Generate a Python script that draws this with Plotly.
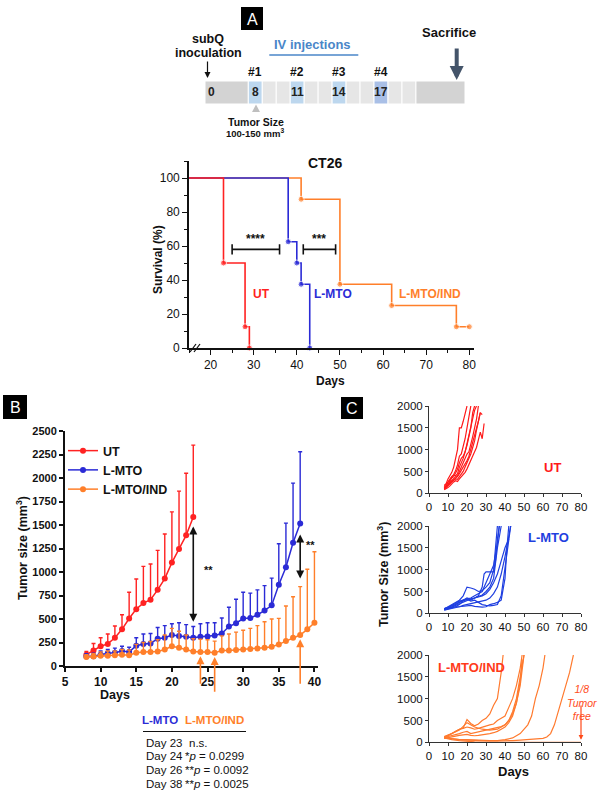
import plotly.graph_objects as go

W, H = 600, 792
FONT = "Liberation Sans, Arial, Helvetica, sans-serif"

# ---------------- DATA ----------------
# Panel A: treatment schedule
inoculation_day = 0
injection_days = [8, 11, 14, 17]
injection_names = ["#1", "#2", "#3", "#4"]

# Panel A: Kaplan-Meier survival (CT26)
surv_ut_days = [15, 23, 28, 29]
surv_ut_pct = [100, 50, 12.5, 0]
surv_mto_days = [15, 38, 40, 41, 43]
surv_mto_pct = [100, 62.5, 50, 37.5, 0]
surv_ind_days = [15, 41, 50, 62, 77, 80]
surv_ind_pct = [100, 87.5, 37.5, 25, 12.5, 12.5]

# Panel B: mean tumour size (+ upper error)
b_days_ut = list(range(8, 24))
b_mean_ut = [120, 165, 210, 235, 300, 390, 505, 605, 670, 705, 810, 930, 1100, 1245, 1390, 1585]
b_err_ut = [35, 75, 90, 105, 125, 155, 280, 320, 390, 380, 420, 475, 540, 615, 660, 765]

b_days_mto = list(range(8, 39))
b_mean_mto = [100, 105, 120, 135, 140, 160, 150, 215, 235, 240, 290, 300, 330, 320, 310,
              300, 310, 315, 325, 345, 420, 455, 505, 510, 545, 590, 645, 865, 1050, 1310, 1515]
b_err_mto = [30, 30, 40, 40, 50, 50, 50, 85, 105, 105, 120, 130, 120, 140, 130,
             120, 140, 145, 135, 165, 205, 255, 280, 265, 265, 265, 290, 435, 470, 635, 765]

b_days_ind = list(range(8, 41))
b_mean_ind = [95, 100, 110, 110, 115, 120, 115, 140, 150, 150, 155, 175, 210, 195, 175, 155,
              150, 150, 140, 165, 165, 170, 175, 180, 185, 195, 205, 230, 265, 300, 330, 390, 460]
b_err_ind = [25, 30, 40, 50, 45, 55, 55, 90, 100, 110, 125, 155, 190, 175, 155, 135,
             135, 130, 125, 155, 175, 190, 205, 220, 245, 275, 295, 277, 373, 437, 514, 639, 756]

table_days = ["Day 23", "Day 24", "Day 26", "Day 38"]
table_p = ["n.s.", "*<i>p</i> = 0.0299", "**<i>p</i> = 0.0092", "**<i>p</i> = 0.0025"]

# Panel C: individual tumour growth curves (8 mice / group)
c_ut_days = [list(range(8, 21)), list(range(8, 23)), list(range(8, 25)), list(range(8, 27)),
             list(range(8, 28)), list(range(8, 30)), list(range(8, 26)), list(range(8, 29))]
c_ut_vals = [
    [180, 220, 330, 400, 480, 600, 800, 1000, 1500, 1500, 1650, 1850, 2000],
    [130, 170, 250, 330, 380, 430, 520, 650, 850, 900, 1050, 1250, 1500, 1800, 2000],
    [100, 150, 200, 280, 350, 380, 450, 550, 700, 800, 850, 950, 1100, 1300, 1500, 1850, 2000],
    [90, 130, 180, 250, 300, 330, 380, 400, 500, 600, 700, 800, 900, 950, 1100, 1300, 1500, 1700, 2000],
    [110, 140, 170, 210, 260, 300, 330, 320, 380, 450, 500, 600, 700, 800, 900, 1050, 1200, 1450, 1650, 1850],
    [80, 100, 130, 170, 220, 260, 290, 270, 330, 380, 430, 480, 560, 650, 750, 850, 950, 1050, 1200, 1400, 1250, 1600],
    [150, 200, 260, 320, 380, 420, 400, 450, 600, 700, 800, 950, 1150, 1350, 1550, 1700, 1900, 2000],
    [120, 160, 200, 230, 280, 300, 350, 380, 450, 520, 580, 650, 750, 850, 1000, 1150, 1300, 1500, 1650, 1850, 1800],
]
c_mto_days = [
    [8, 10, 12, 14, 16, 18, 20, 22, 24, 26, 28, 30, 32, 34, 36],
    [8, 10, 12, 14, 16, 18, 20, 22, 24, 26, 28, 29, 30, 32, 34, 35, 36, 37],
    [8, 10, 12, 14, 16, 18, 20, 22, 24, 26, 28, 30, 32, 34, 36, 38],
    [8, 10, 12, 14, 16, 18, 20, 22, 24, 26, 28, 30, 32, 34, 36, 38, 40, 42],
    [8, 10, 12, 14, 16, 18, 20, 22, 24, 26, 28, 30, 32, 34, 36, 38, 40, 42, 43],
    [8, 10, 12, 14, 16, 18, 20, 22, 24, 26, 28, 30, 32, 34, 36, 38, 40, 41, 42],
    [8, 10, 12, 14, 16, 18, 20, 22, 24, 26, 28, 30, 32, 34, 36, 38, 40, 42, 43],
    [8, 10, 12, 14, 16, 18, 20, 22, 24, 26, 28, 30, 32, 34, 36, 37],
]
c_mto_vals = [
    [100, 150, 200, 250, 300, 400, 600, 580, 550, 500, 520, 600, 700, 1000, 2000],
    [90, 120, 150, 200, 250, 300, 350, 320, 350, 400, 600, 900, 950, 950, 950, 1200, 1700, 2000],
    [80, 100, 130, 150, 200, 280, 320, 300, 350, 380, 420, 500, 600, 800, 1500, 2000],
    [100, 120, 140, 180, 220, 250, 300, 330, 350, 380, 400, 450, 550, 700, 900, 1200, 1500, 1700],
    [70, 90, 100, 120, 150, 180, 200, 220, 250, 260, 280, 300, 350, 450, 600, 900, 1300, 1800, 2000],
    [90, 110, 130, 150, 150, 160, 170, 180, 160, 150, 140, 150, 200, 220, 250, 300, 800, 1500, 2000],
    [100, 130, 180, 240, 280, 300, 320, 280, 300, 250, 200, 180, 170, 180, 200, 400, 1000, 1600, 2000],
    [110, 140, 170, 200, 250, 300, 330, 350, 400, 450, 500, 700, 900, 1100, 1600, 2000],
]
c_ind_days = [
    [8, 10, 12, 14, 16, 18, 20, 22, 24, 26, 28, 30, 32, 34, 36, 38, 39],
    [8, 10, 12, 14, 16, 18, 20, 22, 24, 26, 28, 30, 32, 34, 36, 38, 40, 42, 44, 46, 48, 49],
    [8, 10, 12, 14, 16, 18, 20, 22, 24, 26, 28, 30, 32, 34, 36, 38, 40, 42, 44, 46, 48, 50],
    [8, 10, 12, 14, 16, 18, 20, 22, 24, 26, 28, 30, 32, 34, 36, 38, 40, 42, 44, 46, 48, 49],
    [8, 12, 16, 20, 24, 28, 32, 36, 40, 44, 48, 52, 54, 56, 58, 60, 61],
    [8, 12, 16, 20, 24, 28, 32, 36, 40, 44, 48, 52, 56, 60, 62, 64, 66, 68, 70, 72, 74, 76],
    [8, 12, 16, 20, 24, 28, 32, 36, 40, 50, 60, 70, 80],
    [8, 12, 16, 20, 24, 28, 32, 36, 40, 42, 44, 46, 48, 50],
]
c_ind_vals = [
    [130, 160, 200, 250, 300, 330, 520, 430, 380, 420, 500, 550, 650, 850, 1000, 1600, 2000],
    [100, 150, 200, 250, 300, 320, 350, 330, 300, 320, 350, 380, 400, 420, 500, 550, 600, 800, 1000, 1300, 1700, 2000],
    [110, 130, 150, 180, 200, 230, 250, 200, 220, 240, 260, 280, 300, 320, 340, 360, 400, 500, 700, 1000, 1500, 2000],
    [90, 110, 130, 150, 160, 170, 180, 160, 150, 160, 170, 180, 200, 220, 250, 300, 350, 450, 600, 900, 1400, 1900],
    [100, 80, 60, 60, 50, 40, 40, 40, 60, 100, 200, 400, 600, 1000, 1300, 1700, 2000],
    [110, 80, 60, 50, 40, 30, 30, 30, 30, 40, 50, 60, 70, 90, 120, 200, 400, 700, 1000, 1300, 1600, 2000],
    [100, 60, 40, 20, 10, 5, 0, 0, 0, 0, 0, 0, 0],
    [120, 200, 280, 450, 350, 300, 280, 300, 400, 500, 650, 900, 1300, 2000],
]

# ---------------- STYLE ----------------
RED = "#FF2222"
BLUE = "#2B2BD6"
ORANGE = "#FF7F2A"
C_RED = "#FF1A1A"
C_BLUE = "#1F3FE0"
C_ORANGE = "#FF7A2E"
INK = "#111111"


def PX(x):
    return x / W


def PY(y):
    return 1 - y / H


def T(text, x, y, size=12, color=INK, xanchor="center", angle=0):
    """Text annotation placed in page pixels."""
    return dict(text=text, x=PX(x), y=PY(y), xref="paper", yref="paper", showarrow=False,
                xanchor=xanchor, yanchor="middle", textangle=angle,
                font=dict(size=size, family=FONT, color=color))


def TD(text, x, y, ax, size=12, color=INK):
    """Text annotation in data coordinates of axis pair ax."""
    return dict(text=text, x=x, y=y, xref=f"x{ax}", yref=f"y{ax}", showarrow=False,
                xanchor="center", yanchor="middle", font=dict(size=size, family=FONT, color=color))


fig = go.Figure()

# ---- survival curves ----
for dx, py, col in [(surv_ind_days, surv_ind_pct, ORANGE),
                    (surv_mto_days, surv_mto_pct, BLUE),
                    (surv_ut_days, surv_ut_pct, RED)]:
    fig.add_trace(go.Scatter(
        x=dx, y=py, mode="lines+markers", line=dict(color=col, width=1.6, shape="hv"),
        marker=dict(size=[0] + [6] * (len(dx) - 1), color=col),
        showlegend=False, xaxis="x", yaxis="y", cliponaxis=False))

# ---- panel B ----
for name, dx, m, e, col in [("UT", b_days_ut, b_mean_ut, b_err_ut, RED),
                            ("L-MTO", b_days_mto, b_mean_mto, b_err_mto, BLUE),
                            ("L-MTO/IND", b_days_ind, b_mean_ind, b_err_ind, ORANGE)]:
    fig.add_trace(go.Scatter(
        x=dx, y=m, name=name, mode="lines+markers",
        line=dict(color=col, width=1.5), marker=dict(size=6, color=col),
        error_y=dict(type="data", array=e, arrayminus=[0] * len(e), symmetric=False,
                     color=col, thickness=1.4, width=2),
        xaxis="x2", yaxis="y2", showlegend=True, cliponaxis=False))

# ---- panel C ----
for (days, vals, col, ax) in [(c_ut_days, c_ut_vals, C_RED, 3),
                              (c_mto_days, c_mto_vals, C_BLUE, 4),
                              (c_ind_days, c_ind_vals, C_ORANGE, 5)]:
    for dx, v in zip(days, vals):
        fig.add_trace(go.Scatter(
            x=dx, y=v, mode="lines", line=dict(color=col, width=1.2),
            showlegend=False, xaxis=f"x{ax}", yaxis=f"y{ax}", hoverinfo="skip"))

shapes = []
ann = []

# ---- panel labels ----
for lab, (x0, y0, x1, y1) in [("A", (241, 7, 263, 30)), ("B", (3, 395, 27, 419)),
                              ("C", (341, 397, 363, 419))]:
    shapes.append(dict(type="rect", xref="paper", yref="paper", x0=PX(x0), x1=PX(x1),
                       y0=PY(y1), y1=PY(y0), fillcolor="black", line=dict(width=0)))
    ann.append(T(lab, (x0 + x1) / 2, (y0 + y1) / 2 + 0.5, size=16, color="white"))

# ---- timeline (panel A) ----
def tl(day):
    return 248.3 + (day - 8) * 13.97


BAR_T, BAR_B = 81, 104
shapes.append(dict(type="rect", xref="paper", yref="paper", x0=PX(205), x1=PX(tl(8)),
                   y0=PY(BAR_B), y1=PY(BAR_T), fillcolor="#D3D3D3", line=dict(width=1, color="white")))
for d in range(8, 20):
    if d in injection_days:
        fc = "#A9BFE6" if d == injection_days[-1] else "#BDD7EE"
    else:
        fc = "#E6E6E6"
    shapes.append(dict(type="rect", xref="paper", yref="paper", x0=PX(tl(d)), x1=PX(tl(d + 1)),
                       y0=PY(BAR_B), y1=PY(BAR_T), fillcolor=fc, line=dict(width=1, color="white")))
shapes.append(dict(type="rect", xref="paper", yref="paper", x0=PX(tl(20)), x1=PX(465),
                   y0=PY(BAR_B), y1=PY(BAR_T), fillcolor="#D3D3D3", line=dict(width=1, color="white")))

ann.append(T(f"<b>{inoculation_day}</b>", 211, 92.5, size=12, color="#222"))
for d, nm in zip(injection_days, injection_names):
    cx = (tl(d) + tl(d + 1)) / 2
    ann.append(T(f"<b>{d}</b>", cx, 92.5, size=12, color="#222"))
    ann.append(T(f"<b>{nm}</b>", cx, 72, size=12))

ann += [
    T("<b>subQ</b>", 208, 39, size=12.5),
    T("<b>inoculation</b>", 208, 53, size=12.5),
    dict(text="", x=PX(207.5), y=PY(78), ax=0, ay=-18, xref="paper", yref="paper", showarrow=True,
         arrowhead=2, arrowsize=1, arrowwidth=1.2, arrowcolor=INK),
    T("<b>IV injections</b>", 313, 44, size=13, color="#4A86C8"),
    T("<b>Sacrifice</b>", 449, 33, size=13),
    dict(text="", x=PX(456.7), y=PY(80), ax=0, ay=-33, xref="paper", yref="paper", showarrow=True,
         arrowhead=2, arrowsize=0.7, arrowwidth=4, arrowcolor="#44546A"),
    T("<b>Tumor Size</b>", 256, 121.5, size=10.5),
    T("<b>100-150 mm<sup>3</sup></b>", 255, 133, size=9.5),
]
shapes.append(dict(type="line", xref="paper", yref="paper", x0=PX(269.3), x1=PX(358.3),
                   y0=PY(55), y1=PY(55), line=dict(color="#4A86C8", width=1.3)))
shapes.append(dict(type="path", xref="paper", yref="paper",
                   path=f"M {PX(256)} {PY(104.5)} L {PX(252)} {PY(112)} L {PX(260)} {PY(112)} Z",
                   fillcolor="#BFBFBF", line=dict(width=0)))

# ---- survival annotations ----
ann += [
    T("<b>CT26</b>", 325, 163, size=14),
    T("<b>Survival (%)</b>", 158, 259, size=12, angle=-90),
    T("<b>Days</b>", 330, 381, size=12),
    TD("<b>UT</b>", 31.7, 31.8, "", color=RED),
    TD("<b>L-MTO</b>", 48.4, 31.8, "", color=BLUE),
    TD("<b>L-MTO/IND</b>", 71, 31.8, "", color=ORANGE),
    TD("<b>****</b>", 30.5, 64, ""),
    TD("<b>***</b>", 45.2, 64, ""),
]
for x0, x1 in [(25, 36), (41.5, 49)]:
    shapes.append(dict(type="line", xref="x", yref="y", x0=x0, x1=x1, y0=58, y1=58,
                       line=dict(color=INK, width=1.6)))
    for xx in (x0, x1):
        shapes.append(dict(type="line", xref="x", yref="y", x0=xx, x1=xx, y0=55, y1=61,
                           line=dict(color=INK, width=1.6)))
# axis break marks
for off in (0, 4):
    shapes.append(dict(type="line", xref="paper", yref="paper", x0=PX(190 + off), x1=PX(196 + off),
                       y0=PY(352), y1=PY(344), line=dict(color=INK, width=1.2)))

# ---- panel B annotations ----
ann += [
    T("<b>Tumor size (mm<sup>3</sup>)</b>", 22, 548, size=12.5, angle=-90),
    T("<b>Days</b>", 115, 695, size=12.5),
    dict(text="", x=23, y=470, ax=23, ay=1500, xref="x2", yref="y2", axref="x2", ayref="y2",
         showarrow=True, arrowhead=2, arrowside="end+start", arrowsize=1, arrowwidth=1.6, arrowcolor=INK),
    TD("<b>**</b>", 25.2, 1020, 2, size=11),
    dict(text="", x=38, y=930, ax=38, ay=1415, xref="x2", yref="y2", axref="x2", ayref="y2",
         showarrow=True, arrowhead=2, arrowside="end+start", arrowsize=1, arrowwidth=1.6, arrowcolor=INK),
    TD("<b>**</b>", 39.4, 1290, 2, size=11),
]
for d, tail, star, sy in [(24, -205, "*", -255), (26, -290, "**", -340), (38, -205, "**", -262)]:
    tip = b_mean_ind[b_days_ind.index(d)] - 45
    ann.append(dict(text="", x=d, y=tip, ax=d, ay=tail, xref="x2", yref="y2", axref="x2", ayref="y2",
                    showarrow=True, arrowhead=2, arrowsize=1, arrowwidth=1.6, arrowcolor=ORANGE))
    ann.append(TD(f"<b>{star}</b>", d, sy, 2, size=12, color=ORANGE))

# table under B
ann += [
    T("<b>L-MTO</b>", 160, 720, size=11.5, color=BLUE),
    T("<b>L-MTO/IND</b>", 183, 720, size=11.5, color=ORANGE, xanchor="left"),
]
shapes.append(dict(type="line", xref="paper", yref="paper", x0=PX(143), x1=PX(246),
                   y0=PY(731.5), y1=PY(731.5), line=dict(color=INK, width=1)))
for i, (dl, pv) in enumerate(zip(table_days, table_p)):
    yy = [742.7, 755.7, 769.5, 783.5][i]
    ann.append(T(dl, 144, yy, size=11.5, xanchor="left"))
    ann.append(T(pv, 187 if i == 0 else 183, yy, size=11.5, xanchor="left"))

# ---- panel C annotations ----
ann += [
    T("<b>UT</b>", 552, 467, size=13, color=C_RED),
    T("<b>L-MTO</b>", 548, 537, size=13, color=C_BLUE),
    T("<b>L-MTO/IND</b>", 471, 667, size=13, color="#FF3A1A"),
    T("<i>1/8<br>Tumor<br>free</i>", 582, 702.5, size=10.5, color="#FF4A1A"),
    dict(text="", x=80, y=60, ax=80, ay=880, xref="x5", yref="y5", axref="x5", ayref="y5",
         showarrow=True, arrowhead=2, arrowsize=0.8, arrowwidth=1.2, arrowcolor="#FF4A1A"),
    T("<b>Tumor Size (mm<sup>3</sup>)</b>", 383, 575, size=12.5, angle=-90),
    T("<b>Days</b>", 513, 771, size=13),
]

common = dict(showgrid=False, zeroline=False, showline=True, linecolor=INK, ticks="outside",
              tickcolor=INK, automargin=False, fixedrange=True)

layout = dict(
    width=W, height=H, margin=dict(l=0, r=0, t=0, b=0), autosize=False,
    paper_bgcolor="white", plot_bgcolor="white", template="none",
    font=dict(family=FONT, color=INK),
    showlegend=True,
    legend=dict(x=PX(63), y=PY(436), xanchor="left", yanchor="top", bgcolor="rgba(0,0,0,0)",
                font=dict(size=12.5, family=FONT, color=INK, weight="bold"),
                itemwidth=30, tracegroupgap=0),
    xaxis=dict(common, domain=[PX(189), PX(473.6)], range=[15, 81], anchor="y",
               tickvals=[20, 30, 40, 50, 60, 70, 80], ticklen=5, linewidth=1.6, tickwidth=1.4,
               minor=dict(dtick=5, tick0=0, ticklen=3, ticks="outside", tickcolor=INK),
               tickfont=dict(size=12, family=FONT, color=INK)),
    yaxis=dict(common, domain=[PY(348), PY(161)], range=[0, 110], anchor="x",
               tickvals=[0, 20, 40, 60, 80, 100], ticklen=5, linewidth=1.6, tickwidth=1.4,
               minor=dict(dtick=10, tick0=0, ticklen=3, ticks="outside", tickcolor=INK),
               tickfont=dict(size=12, family=FONT, color=INK)),
    xaxis2=dict(common, domain=[PX(65), PX(318)], range=[5, 40.5], anchor="y2",
                tickvals=[5, 10, 15, 20, 25, 30, 35, 40], ticklen=4, linewidth=2, tickwidth=1.5,
                tickfont=dict(size=12, family=FONT, color=INK, weight="bold")),
    yaxis2=dict(common, domain=[PY(666), PY(431)], range=[0, 2500], anchor="x2",
                tickvals=list(range(0, 2501, 250)), ticklen=4, linewidth=2, tickwidth=1.5,
                tickfont=dict(size=11, family=FONT, color=INK, weight="bold")),
    annotations=ann, shapes=shapes,
)
for i, (top, bot) in zip([3, 4, 5], [(406, 493.3), (526, 613.3), (655, 742.3)]):
    layout[f"xaxis{i}"] = dict(common, domain=[PX(429), PX(581)], range=[0, 80], anchor=f"y{i}",
                               tickvals=list(range(0, 81, 10)), ticklen=3, linewidth=1, tickwidth=1,
                               linecolor="#333", tickcolor="#333",
                               tickfont=dict(size=11.5, family=FONT, color=INK))
    layout[f"yaxis{i}"] = dict(common, domain=[PY(bot), PY(top)], range=[0, 2000], anchor=f"x{i}",
                               tickvals=[0, 500, 1000, 1500, 2000], ticklen=3, linewidth=1, tickwidth=1,
                               linecolor="#333", tickcolor="#333",
                               tickfont=dict(size=11.5, family=FONT, color=INK))

fig.update_layout(layout)
fig.write_html("out.html", config={"displayModeBar": False},
               post_script="document.body.style.margin='0';document.body.style.padding='0';")
